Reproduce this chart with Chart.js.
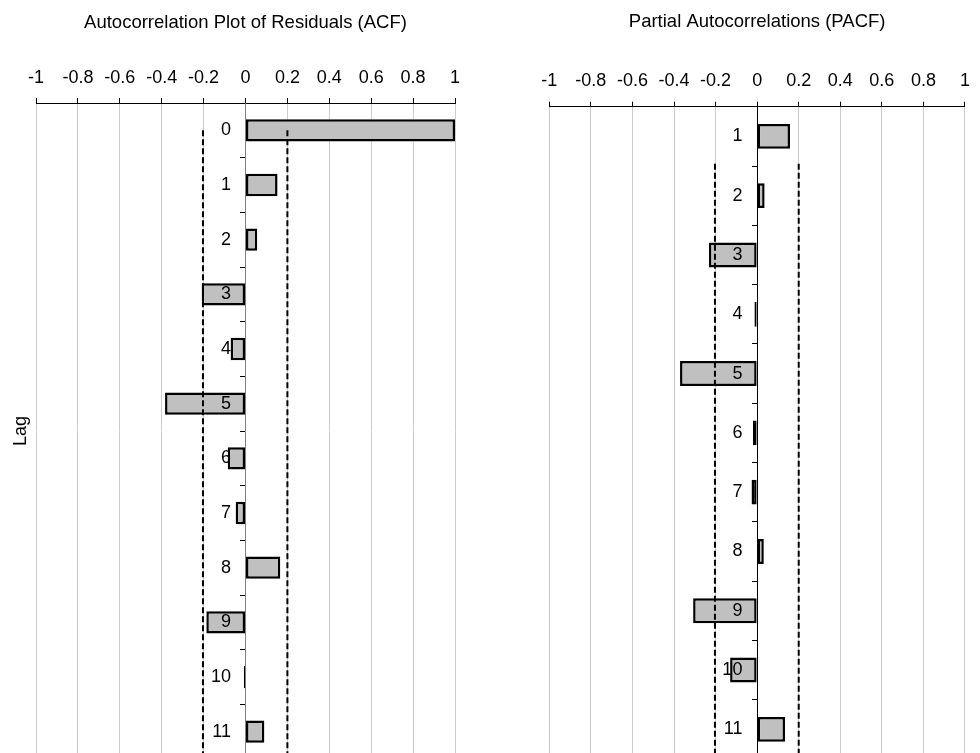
<!DOCTYPE html>
<html>
<head>
<meta charset="utf-8">
<script src="https://cdn.jsdelivr.net/npm/chart.js@4/dist/chart.umd.min.js"></script>
<style>
  html, body { margin: 0; padding: 0; background: #fff; overflow: hidden; width: 980px; height: 753px; }
  .wrap { position: absolute; top: 0; width: 490px; height: 780px; }
  #w1 { left: 0; }
  #w2 { left: 490px; }
</style>
</head>
<body>
<div class="wrap" id="w1"><canvas id="c1" width="490" height="780"></canvas></div>
<div class="wrap" id="w2"><canvas id="c2" width="490" height="780"></canvas></div>
<script>
// ---- data ----
const acfLags = ['0','1','2','3','4','5','6','7','8','9','10','11'];
const acfValues = [1.0, 0.153, 0.056, -0.209, -0.071, -0.384, -0.085, -0.047, 0.166, -0.187, -0.008, 0.090];
const acfBounds = [-0.203, 0.2];
const acfBoundStart = 0;

const pacfLags = ['1','2','3','4','5','6','7','8','9','10','11'];
const pacfValues = [0.158, 0.036, -0.232, -0.013, -0.371, -0.020, -0.027, 0.032, -0.308, -0.130, 0.134];
const pacfBounds = [-0.203, 0.2];
const pacfBoundStart = 0.46;

const xTickValues = [-1, -0.8, -0.6, -0.4, -0.2, 0, 0.2, 0.4, 0.6, 0.8, 1];

const FONT = "'Liberation Sans', Arial, sans-serif";
Chart.defaults.font.family = FONT;
Chart.defaults.color = '#000';
Chart.defaults.animation = false;

const boundsPlugin = {
  id: 'bounds',
  afterDatasetsDraw(chart, args, opts) {
    const {ctx, chartArea} = chart;
    const xs = chart.scales.x, ys = chart.scales.y;
    const yTop = ys.getPixelForValue(opts.start);
    ctx.save();
    ctx.strokeStyle = '#000';
    ctx.lineWidth = 2;
    ctx.setLineDash([6, 3]);
    opts.values.forEach(v => {
      const px = xs.getPixelForValue(v);
      ctx.beginPath();
      ctx.moveTo(px, yTop);
      ctx.lineTo(px, chartArea.bottom + 5);
      ctx.stroke();
    });
    ctx.restore();
  }
};

function makeChart(id, lags, values, bounds, start, opts) {
  const scales = {
    x: {
      type: 'linear', position: 'top', min: -1, max: 1,
      afterBuildTicks: s => { s.ticks = xTickValues.map(v => ({value: v})); },
      afterFit: s => { s.height = opts.xAxisHeight; },
      ticks: { font: {size: 18}, color: '#000', padding: opts.xTickPad, maxRotation: 0, autoSkip: false,
               callback: v => String(v) },
      grid: { color: '#cccccc', tickColor: '#000', tickLength: 5, lineWidth: 1 },
      border: { color: '#000', width: 1 }
    },
    y: {
      type: 'category', labels: lags, position: {x: 0}, offset: true,
      ticks: { display: false },
      grid: { offset: true, drawOnChartArea: false, tickColor: '#000', tickLength: 5 },
      border: { color: opts.zeroColor, width: 1 }
    },
    yl: {
      type: 'category', labels: lags, position: {x: opts.labelAt}, offset: true,
      ticks: { font: {size: 18}, color: '#000', padding: 0, autoSkip: false, z: 1 },
      grid: { display: false, drawTicks: false },
      border: { display: false }
    }
  };
  if (opts.lagTitle) {
    scales.y2 = {
      type: 'category', labels: lags, position: 'left',
      afterFit: s => { s.width = 30; },
      ticks: { display: false },
      grid: { display: false, drawTicks: false },
      border: { display: false },
      title: { display: true, text: opts.lagTitle, font: {size: 18}, color: '#000', padding: 4 }
    };
  }
  return new Chart(document.getElementById(id), {
    type: 'bar',
    data: {
      labels: lags,
      datasets: [{
        data: values,
        yAxisID: 'y',
        backgroundColor: '#c0c0c0',
        borderColor: '#000',
        borderWidth: 2.5,
        borderSkipped: false,
        barPercentage: opts.barPct,
        categoryPercentage: 1
      }]
    },
    options: {
      indexAxis: 'y',
      responsive: false,
      maintainAspectRatio: false,
      layout: { padding: opts.padding },
      plugins: {
        legend: { display: false },
        tooltip: { enabled: false },
        title: { display: true, text: opts.title, fullSize: false, color: '#000',
                 font: {size: 18.5, weight: 'normal'}, padding: {top: opts.titleTop, bottom: 10} },
        bounds: { values: bounds, start: start }
      },
      scales
    },
    plugins: [boundsPlugin]
  });
}

makeChart('c1', acfLags, acfValues, acfBounds, acfBoundStart, {
  title: 'Autocorrelation Plot of Residuals (ACF)', lagTitle: 'Lag',
  padding: {left: 6, right: 35, top: 0, bottom: 21},
  titleTop: 12.1, xAxisHeight: 58.7, xTickPad: 9, labelAt: -0.069,
  zeroColor: '#808080', barPct: 0.41
});
makeChart('c2', pacfLags, pacfValues, pacfBounds, pacfBoundStart, {
  title: 'Partial Autocorrelations (PACF)', lagTitle: null,
  padding: {left: 59.3, right: 9, top: 0, bottom: 21},
  titleTop: 10.5, xAxisHeight: 64, xTickPad: 10, labelAt: -0.071,
  zeroColor: '#000', barPct: 0.42
});
</script>
</body>
</html>
